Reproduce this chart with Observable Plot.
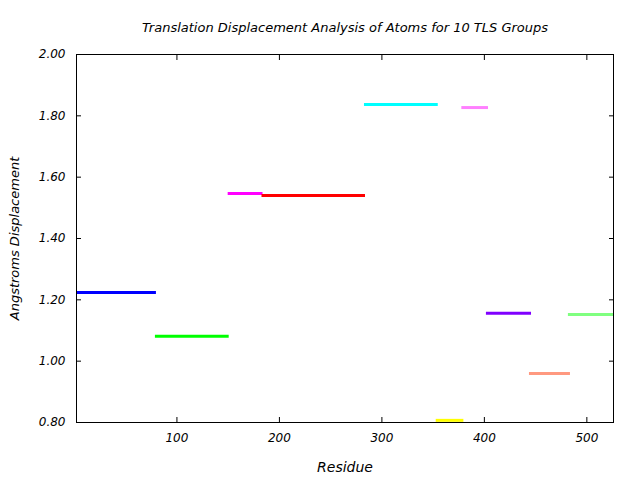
<!DOCTYPE html>
<html>
<head>
<meta charset="utf-8">
<script src="https://cdn.jsdelivr.net/npm/d3@7"></script>
<script src="https://cdn.jsdelivr.net/npm/@observablehq/plot@0.6"></script>
<style>
  html, body { margin: 0; padding: 0; background: #fff; }
</style>
</head>
<body>
<div id="chart"></div>
<script>
const title = "Translation Displacement Analysis of Atoms for 10 TLS Groups";
const xLabel = "Residue";
const yLabel = "Angstroms Displacement";
const groups = ["1", "2", "3", "4", "5", "6", "7", "8", "9", "10"];
const starts = [2, 79, 150, 183, 283, 353, 378, 402, 444, 482];
const ends = [80, 151, 184, 284, 355, 380, 404, 446, 484, 527];
const values = [1.224, 1.081, 1.547, 1.540, 1.837, 0.807, 1.827, 1.156, 0.960, 1.152];
const colors = ["#0000ff", "#00ff00", "#ff00ff", "#ff0000", "#00ffff", "#ffff00", "#ff80ff", "#8000ff", "#ff9980", "#80ff80"];
const xTicks = [100, 200, 300, 400, 500];
const yTicks = [0.8, 1.0, 1.2, 1.4, 1.6, 1.8, 2.0];

const data = groups.map((g, i) => ({group: g, start: starts[i], end: ends[i], value: values[i]}));

const chart = Plot.plot({
  width: 640,
  height: 480,
  marginLeft: 76,
  marginRight: 27,
  marginTop: 54,
  marginBottom: 58,
  style: {fontFamily: "DejaVu Sans", fontSize: "12px", fontStyle: "italic", color: "#000", background: "#fff"},
  x: {domain: [2, 526]},
  y: {domain: [0.8, 2.0]},
  color: {domain: groups, range: colors},
  marks: [
    Plot.ruleY(data, {y: "value", x1: "start", x2: "end", stroke: "group", strokeWidth: 3, clip: false}),
    Plot.frame({stroke: "#000", strokeWidth: 1}),
    Plot.axisX(xTicks, {anchor: "bottom", tickSize: -5, tickPadding: 16, tickFormat: d => String(d), label: null, fontSize: 12}),
    Plot.axisX(xTicks, {anchor: "top", tickSize: -5, tickFormat: () => "", label: null}),
    Plot.axisY(yTicks, {anchor: "left", tickSize: -5, tickPadding: 16, tickFormat: d => d.toFixed(2), label: null}),
    Plot.axisY(yTicks, {anchor: "right", tickSize: -5, tickFormat: () => "", label: null}),
    Plot.text([title], {frameAnchor: "top", dy: -27, lineAnchor: "middle", textAnchor: "middle", fontSize: 13}),
    Plot.text([xLabel], {frameAnchor: "bottom", dy: 45, lineAnchor: "middle", textAnchor: "middle", fontSize: 14}),
    Plot.text([yLabel], {frameAnchor: "left", dx: -62, rotate: -90, lineAnchor: "middle", textAnchor: "middle", fontSize: 13})
  ]
});
document.getElementById("chart").appendChild(chart);
</script>
</body>
</html>
